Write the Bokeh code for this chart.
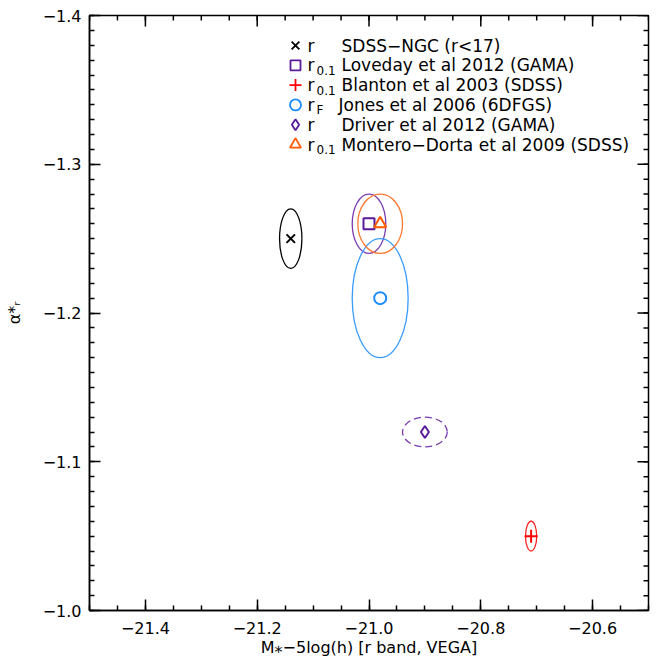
import numpy as np
from bokeh.plotting import figure
from bokeh.models import Range1d, FixedTicker, ColumnDataSource
from bokeh.core.properties import value
from bokeh.embed import file_html
from bokeh.resources import INLINE

# ---------------- data ----------------
names = ["SDSS\u2212NGC (r<17)", "Loveday et al 2012 (GAMA)", "Blanton et al 2003 (SDSS)",
         "Jones et al 2006 (6DFGS)", "Driver et al 2012 (GAMA)", "Montero\u2212Dorta et al 2009 (SDSS)"]
bands = ["r", "r", "r", "r", "r", "r"]
band_subs = ["", "0.1", "0.1", "F", "", "0.1"]
m_star = [-21.14, -21.00, -20.71, -20.98, -20.90, -20.98]
alpha = [-1.25, -1.26, -1.05, -1.21, -1.12, -1.26]
m_err = [0.020, 0.030, 0.010, 0.050, 0.040, 0.040]
alpha_err = [0.020, 0.020, 0.010, 0.040, 0.010, 0.020]
markers = ["x", "square", "cross", "circle", "diamond", "triangle"]
marker_sizes = [12, 11, 13, 12, 12, 12]
marker_colors = ["#000000", "#5a1a9a", "#ff0000", "#1a8cff", "#5a1a9a", "#ff5a00"]
ellipse_colors = ["#000000", "#7a3ab0", "#ff2020", "#3a9cff", "#7a3ab0", "#ff7a30"]
ellipse_dash = ["solid", "solid", "solid", "solid", "7 4", "solid"]

x_ticks = [-21.4, -21.2, -21.0, -20.8, -20.6]
x_tick_labels = ["\u221221.4", "\u221221.2", "\u221221.0", "\u221220.8", "\u221220.6"]
y_ticks = [-1.4, -1.3, -1.2, -1.1, -1.0]
y_tick_labels = ["\u22121.4", "\u22121.3", "\u22121.2", "\u22121.1", "\u22121.0"]
x_title = "M\u204e\u22125log(h) [r band, VEGA]"
y_title = "\u03b1*\u1d63"

X0, X1 = -21.5, -20.5
Y_BOTTOM, Y_TOP = -1.0, -1.4

FONT = "DejaVu Sans"

# frame geometry (figure pixels)
FL, FT, FW, FH = 89, 15, 559, 595
W, H = 658, 661
MAJ_LEN, MIN_LEN = 11, 5

def px_x(px):  # figure pixel -> data x
    return X0 + (px - FL) / FW * (X1 - X0)

def px_y(py):  # figure pixel -> data y
    return Y_TOP + (py - FT) / FH * (Y_BOTTOM - Y_TOP)

p = figure(width=W, height=H, x_range=Range1d(X0, X1), y_range=Range1d(Y_BOTTOM, Y_TOP),
           output_backend="svg", toolbar_location=None,
           min_border_left=FL, min_border_right=W - FL - FW, min_border_top=FT,
           min_border_bottom=H - FT - FH)
p.grid.visible = False
p.outline_line_color = "black"
p.outline_line_width = 1.5
p.background_fill_color = "white"
p.border_fill_color = "white"

bottom_ax = p.below[0]
left_ax = p.left[0]

x_minor = [float(v) for v in np.round(np.arange(X0, X1 + 1e-9, 0.05), 3)]
y_minor = [float(v) for v in np.round(np.arange(Y_TOP, Y_BOTTOM + 1e-9, 0.01), 3)]

def style(ax, ticks, minor, labels):
    ax.ticker = FixedTicker(ticks=ticks, minor_ticks=minor)
    ax.major_tick_in = MAJ_LEN
    ax.major_tick_out = 0
    ax.minor_tick_in = MIN_LEN
    ax.minor_tick_out = 0
    ax.axis_line_color = "black"
    ax.axis_line_width = 1.5
    ax.major_tick_line_color = "black"
    ax.major_tick_line_width = 1.5
    ax.minor_tick_line_color = "black"
    ax.minor_tick_line_width = 1.5
    ax.major_label_overrides = {float(t): s for t, s in zip(ticks, labels)}
    ax.major_label_text_font = FONT
    ax.major_label_text_font_size = "16px"
    ax.major_label_text_color = "black"
    ax.axis_label_text_font = FONT
    ax.axis_label_text_font_size = "16px"
    ax.axis_label_text_font_style = "normal"
    ax.axis_label_text_color = "black"

style(bottom_ax, x_ticks, x_minor, x_tick_labels)
style(left_ax, y_ticks, y_minor, y_tick_labels)
bottom_ax.major_label_standoff = 11
bottom_ax.axis_label = x_title
bottom_ax.axis_label_standoff = 1
left_ax.major_label_standoff = 8
left_ax.axis_label = y_title
left_ax.axis_label_standoff = 16

# mirrored tick marks on the top and right edges of the box
dx_maj = MAJ_LEN / FW * (X1 - X0)
dx_min = MIN_LEN / FW * (X1 - X0)
dy_maj = MAJ_LEN / FH * (Y_BOTTOM - Y_TOP)
dy_min = MIN_LEN / FH * (Y_BOTTOM - Y_TOP)
p.segment(x0=x_ticks, y0=[Y_TOP] * len(x_ticks), x1=x_ticks, y1=[Y_TOP + dy_maj] * len(x_ticks),
          line_color="black", line_width=1.5)
p.segment(x0=x_minor, y0=[Y_TOP] * len(x_minor), x1=x_minor, y1=[Y_TOP + dy_min] * len(x_minor),
          line_color="black", line_width=1.5)
p.segment(x0=[X1] * len(y_ticks), y0=y_ticks, x1=[X1 - dx_maj] * len(y_ticks), y1=y_ticks,
          line_color="black", line_width=1.5)
p.segment(x0=[X1] * len(y_minor), y0=y_minor, x1=[X1 - dx_min] * len(y_minor), y1=y_minor,
          line_color="black", line_width=1.5)

# error ellipses
for i in range(len(names)):
    p.ellipse(x=[m_star[i]], y=[alpha[i]], width=[2 * m_err[i]], height=[2 * alpha_err[i]],
              fill_color=None, line_color=ellipse_colors[i], line_width=1.3,
              line_dash=ellipse_dash[i])

# points
for i in range(len(names)):
    p.scatter(x=[m_star[i]], y=[alpha[i]], marker=markers[i], size=marker_sizes[i],
              fill_color=None, line_color=marker_colors[i], line_width=2)

# legend (manual, to allow subscripts)
row_py = [45 + 19.8 * i for i in range(len(names))]
leg_y = [px_y(py) for py in row_py]
for i in range(len(names)):
    p.scatter(x=[px_x(295)], y=[leg_y[i]], marker=markers[i], size=marker_sizes[i] - 1,
              fill_color=None, line_color=marker_colors[i], line_width=1.8)

band_src = ColumnDataSource(dict(x=[px_x(307)] * len(names), y=leg_y, t=bands))
p.text(x="x", y="y", text="t", source=band_src, text_font=value(FONT), text_font_size="17px",
       text_baseline="middle", text_align="left", text_color="black")
sub_idx = [i for i, s in enumerate(band_subs) if s]
sub_src = ColumnDataSource(dict(x=[px_x(316)] * len(sub_idx),
                                y=[px_y(row_py[i] + 5) for i in sub_idx],
                                t=[band_subs[i] for i in sub_idx]))
p.text(x="x", y="y", text="t", source=sub_src, text_font=value(FONT), text_font_size="12px",
       text_baseline="middle", text_align="left", text_color="black")
desc_x = [px_x(338) if s == "F" else px_x(341) for s in band_subs]
desc_src = ColumnDataSource(dict(x=desc_x, y=leg_y, t=names))
p.text(x="x", y="y", text="t", source=desc_src, text_font=value(FONT), text_font_size="17px",
       text_baseline="middle", text_align="left", text_color="black")

open("out.html", "w").write(file_html(p, INLINE))
